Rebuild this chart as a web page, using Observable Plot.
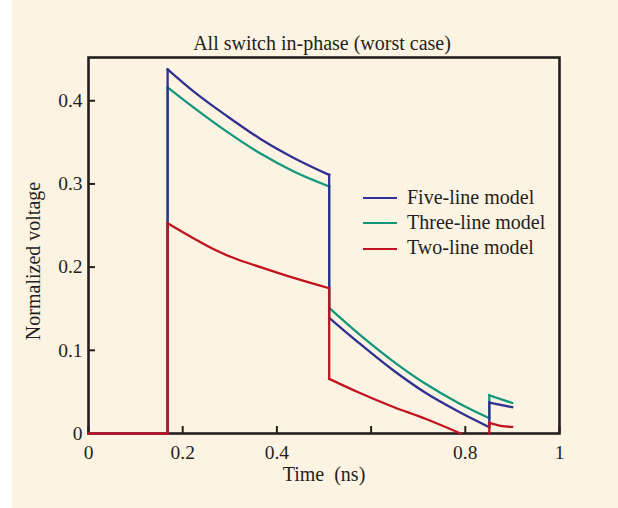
<!DOCTYPE html>
<html><head><meta charset="utf-8">
<script src="https://cdn.jsdelivr.net/npm/d3@7"></script>
<script src="https://cdn.jsdelivr.net/npm/@observablehq/plot@0.6"></script>
<style>
body{margin:0;background:#fff;}
#wrap{position:absolute;left:12px;top:0;width:606px;height:508px;background:#fdf3e3;font-family:"Liberation Serif","Times New Roman",serif;color:#231f20;overflow:hidden;}
#chart{position:absolute;left:0;top:0;}
#chart svg text{font-family:"Liberation Serif","Times New Roman",serif;font-size:19.5px;}
.t{position:absolute;white-space:pre;line-height:1;font-size:20px;}
.lg{position:absolute;height:2.3px;width:34px;}
</style></head><body>
<div id="wrap">
<div id="chart"></div>
<div class="t" id="title" style="left:310px;top:33px;transform:translateX(-50%)">All switch in-phase (worst case)</div>
<div class="t" id="xlab" style="left:312px;top:464px;transform:translateX(-50%)">Time  (ns)</div>
<div class="t" id="ylab" style="left:20.5px;top:261px;transform:translate(-50%,-50%) rotate(-90deg)">Normalized voltage</div>
<div id="legend"></div>
</div>
<script>
// ---- data ----
const seriesNames = ["Five-line model", "Three-line model", "Two-line model"];
const seriesColors = ["#2e3192", "#12977b", "#c1131f"];
const xTicks = [0, 0.2, 0.4, 0.6, 0.8, 1];
const xTickLabels = ["0", "0.2", "0.4", "", "0.8", "1"];
const yTicks = [0, 0.1, 0.2, 0.3, 0.4];
const yTickLabels = ["0", "0.1", "0.2", "0.3", "0.4"];

// segments of [time (ns), normalized voltage]
const fiveLine = [
  [[0, 0], [0.168, 0]],
  [[0.168, 0], [0.168, 0.4378]],
  [[0.168, 0.4378], [0.2236, 0.4110], [0.2945, 0.3814], [0.3652, 0.3541], [0.4359, 0.3313], [0.511, 0.3109]],
  [[0.511, 0.3109], [0.511, 0.1391]],
  [[0.511, 0.1391], [0.5739, 0.1090], [0.6448, 0.0769], [0.7155, 0.0489], [0.7862, 0.0261], [0.851, 0.0076]],
  [[0.851, 0.0076], [0.851, 0.0372]],
  [[0.851, 0.0372], [0.8995, 0.0316]]
];
const threeLine = [
  [[0, 0], [0.168, 0]],
  [[0.168, 0], [0.168, 0.4162]],
  [[0.168, 0.4162], [0.2236, 0.3918], [0.2945, 0.3626], [0.3652, 0.3365], [0.4359, 0.3149], [0.511, 0.2969]],
  [[0.511, 0.2969], [0.511, 0.1511]],
  [[0.511, 0.1511], [0.5739, 0.1198], [0.6448, 0.0877], [0.7155, 0.0597], [0.7862, 0.0364], [0.851, 0.0184]],
  [[0.851, 0.0184], [0.851, 0.0460]],
  [[0.851, 0.0460], [0.8995, 0.0368]]
];
const twoLine = [
  [[0, 0], [0.168, 0]],
  [[0.168, 0], [0.168, 0.2528]],
  [[0.168, 0.2528], [0.2236, 0.2345], [0.266, 0.2215], [0.3015, 0.2125], [0.3652, 0.2000], [0.4359, 0.1870], [0.511, 0.1746]],
  [[0.511, 0.1746], [0.511, 0.0657]],
  [[0.511, 0.0657], [0.5739, 0.0493], [0.6448, 0.0325], [0.7155, 0.0177], [0.79, 0]],
  [[0.851, 0], [0.851, 0.0128]],
  [[0.851, 0.0128], [0.8747, 0.0093], [0.8995, 0.0080]]
];

function rows(segs) {
  const out = [];
  segs.forEach((s, k) => s.forEach(([t, v]) => out.push({seg: k, t, v})));
  return out;
}
const allSeries = [fiveLine, threeLine, twoLine];
const drawOrder = [1, 0, 2]; // green, blue, red on top

const lineMarks = drawOrder.map(i => Plot.line(rows(allSeries[i]), {
  x: "t", y: "v", z: "seg", stroke: seriesColors[i], strokeWidth: 2.3,
  curve: "monotone-x", strokeLinecap: "square", strokeLinejoin: "miter"
}));

const chart = Plot.plot({
  width: 606, height: 508,
  marginLeft: 76, marginRight: 59, marginTop: 57, marginBottom: 75,
  style: {background: "transparent", fontFamily: "Liberation Serif", fontSize: "19.5px", color: "#231f20"},
  x: {domain: [0, 1]},
  y: {domain: [0, 0.452]},
  marks: [
    Plot.axisX({ticks: xTicks, tickFormat: d => xTickLabels[xTicks.indexOf(d)], tickSize: -7, tickPadding: 19, strokeWidth: 2, label: null}),
    Plot.axisY({ticks: yTicks, tickFormat: d => yTickLabels[yTicks.indexOf(d)], tickSize: -7, tickPadding: 13, strokeWidth: 2, label: null}),
    Plot.frame({stroke: "#231f20", strokeWidth: 2.6}),
    ...lineMarks
  ]
});
document.getElementById("chart").appendChild(chart);

// legend
const lg = document.getElementById("legend");
const rowY = [198.3, 223.3, 249];
seriesNames.forEach((name, i) => {
  const ln = document.createElement("div");
  ln.className = "lg";
  ln.style.left = "351px";
  ln.style.top = (rowY[i] - 1.15) + "px";
  ln.style.background = seriesColors[i];
  lg.appendChild(ln);
  const tx = document.createElement("div");
  tx.className = "t";
  tx.style.left = "395px";
  tx.style.top = (rowY[i] + 5 - 16.75) + "px";
  tx.textContent = name;
  lg.appendChild(tx);
});
</script>
</body></html>
